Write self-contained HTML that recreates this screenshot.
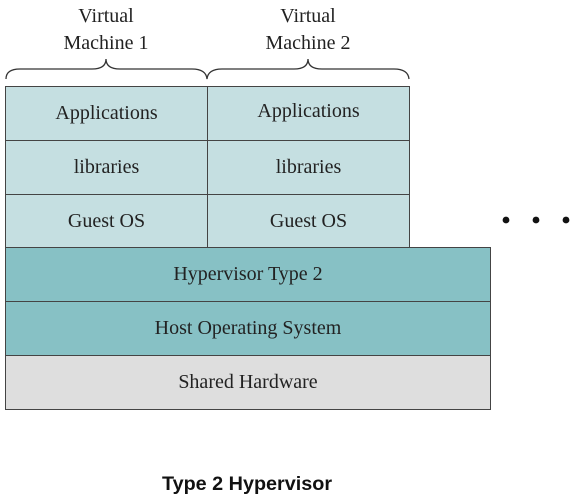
<!DOCTYPE html>
<html><head><style>
body{margin:0;width:576px;height:500px;background:#fff;position:relative;overflow:hidden;font-family:"Liberation Serif",serif;color:#222}
.b{position:absolute;box-sizing:border-box;border:1.5px solid #444;display:flex;align-items:center;justify-content:center;font-size:20px}
.l{background:#c5dfe1}.m{background:#87c1c5}.g{background:#dedede}
.t{position:absolute;text-align:center;font-size:20px;line-height:27px}
</style></head><body>
<div class="t" style="left:6px;top:3px;width:200px">Virtual<br>Machine 1</div>
<div class="t" style="left:207px;top:3px;width:202px">Virtual<br>Machine 2</div>
<svg width="576" height="500" style="position:absolute;left:0;top:0">
<path d="M6,79 Q6,69 20,69 L92,69 Q106,69 106,59 Q106,69 120,69 L192,69 Q206,69 207,79 Q208,69 222,69 L294,69 Q308,69 308,59 Q308,69 322,69 L394,69 Q408,69 409,79" fill="none" stroke="#333" stroke-width="1.3"/>
<circle cx="506" cy="220" r="3.4" fill="#111"/><circle cx="536" cy="220" r="3.4" fill="#111"/><circle cx="566" cy="220" r="3.4" fill="#111"/>
</svg>
<div class="b l" style="left:5px;top:86px;width:203px;height:55px">Applications</div>
<div class="b l" style="left:207px;top:86px;width:203px;height:55px;padding-bottom:4px">Applications</div>
<div class="b l" style="left:5px;top:140px;width:203px;height:55px">libraries</div>
<div class="b l" style="left:207px;top:140px;width:203px;height:55px">libraries</div>
<div class="b l" style="left:5px;top:194px;width:203px;height:54px">Guest OS</div>
<div class="b l" style="left:207px;top:194px;width:203px;height:54px">Guest OS</div>
<div class="b m" style="left:5px;top:247px;width:486px;height:55px">Hypervisor Type 2</div>
<div class="b m" style="left:5px;top:301px;width:486px;height:55px">Host Operating System</div>
<div class="b g" style="left:5px;top:355px;width:486px;height:55px">Shared Hardware</div>
<div style="position:absolute;left:0;width:494px;top:473px;text-align:center;font:bold 19.8px 'Liberation Sans',sans-serif;color:#111">Type 2 Hypervisor</div>
</body></html>
